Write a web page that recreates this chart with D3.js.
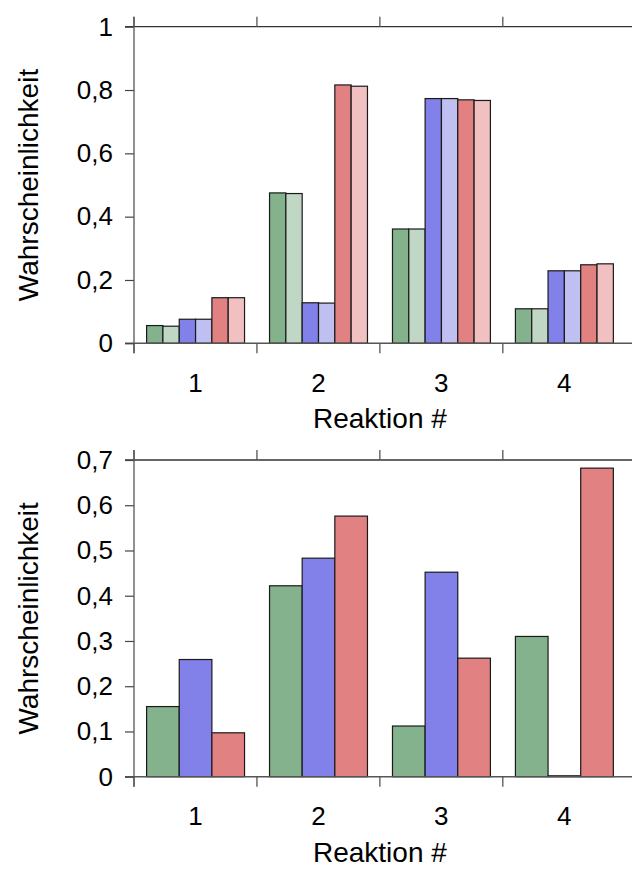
<!DOCTYPE html>
<html>
<head>
<meta charset="utf-8">
<script src="https://cdn.jsdelivr.net/npm/d3@7"></script>
<style>
  body { margin: 0; background: #fff; }
  text { font-family: "Liberation Sans", Arial, sans-serif; fill: #000; }
</style>
</head>
<body>
<svg id="chart" width="632" height="869"></svg>
<script>
var groups = ["1", "2", "3", "4"];

// oberes Diagramm: 6 Reihen
var topSeries = ["g", "g2", "b", "b2", "r", "r2"];
var topGreen  = [0.056, 0.475, 0.361, 0.109];
var topGreen2 = [0.054, 0.473, 0.361, 0.109];
var topBlue   = [0.076, 0.128, 0.773, 0.229];
var topBlue2  = [0.076, 0.127, 0.773, 0.229];
var topRed    = [0.144, 0.816, 0.769, 0.248];
var topRed2   = [0.144, 0.812, 0.767, 0.251];
var topTicks  = [0, 0.2, 0.4, 0.6, 0.8, 1];

// unteres Diagramm: 3 Reihen
var botSeries = ["g", "b", "r"];
var botGreen  = [0.155, 0.422, 0.112, 0.310];
var botBlue   = [0.259, 0.483, 0.452, 0.002];
var botRed    = [0.097, 0.576, 0.262, 0.682];
var botTicks  = [0, 0.1, 0.2, 0.3, 0.4, 0.5, 0.6, 0.7];

var colors = {g: "#84b28c", g2: "#c1d7c5", b: "#8181e9", b2: "#bfbff2", r: "#e18181", r2: "#f1c1c1"};

var svg = d3.select("#chart");
var fmt = function(d){ return String(d).replace(".", ","); };

function drawChart(top, bottom, series, values, ticks){
  var left = 134, right = 625.75;
  var x = d3.scaleBand().domain(groups).range([left, right]);
  var x1 = d3.scaleBand().domain(series).range([12.6, x.bandwidth() - 12.4]);
  var y = d3.scaleLinear().domain([0, ticks[ticks.length - 1]]).range([bottom, top]);

  var g = svg.append("g");

  // Balken
  series.forEach(function(s, si){
    g.selectAll(".bar" + s)
      .data(values[si])
      .enter()
      .append("rect")
      .attr("x", function(d, i){ return x(groups[i]) + x1(s); })
      .attr("width", x1.bandwidth())
      .attr("y", function(d){ return y(d); })
      .attr("height", function(d){ return y(0) - y(d); })
      .attr("fill", colors[s])
      .attr("stroke", "#1a1a1a")
      .attr("stroke-width", 1.2);
  });

  // Rahmenlinien oben und unten
  g.append("line").attr("x1", left - 9).attr("x2", 632).attr("y1", y(ticks[ticks.length-1])).attr("y2", y(ticks[ticks.length-1]))
    .attr("stroke", "#333").attr("stroke-width", 1.3);
  g.append("line").attr("x1", left - 9).attr("x2", 632).attr("y1", y(0)).attr("y2", y(0))
    .attr("stroke", "#555").attr("stroke-width", 1.5);

  // Grenzticks oben/unten
  g.selectAll(".tb").data(groups).enter().append("line")
    .attr("x1", function(d){ return x(d); }).attr("x2", function(d){ return x(d); })
    .attr("y1", y(0)).attr("y2", y(0) + 10)
    .attr("stroke", "#555").attr("stroke-width", 1.3);
  g.selectAll(".tt").data(groups).enter().append("line")
    .attr("x1", function(d){ return x(d); }).attr("x2", function(d){ return x(d); })
    .attr("y1", top).attr("y2", top - 10)
    .attr("stroke", "#555").attr("stroke-width", 1.3);

  // y-Achse
  var yAxis = g.append("g")
    .attr("transform", "translate(" + left + ",0)")
    .call(d3.axisLeft(y).tickValues(ticks).tickFormat(fmt).tickSize(9).tickPadding(12));
  yAxis.select(".domain").remove();
  yAxis.selectAll("line").attr("stroke", "#444").attr("stroke-width", 1.2);
  yAxis.selectAll("text").attr("font-size", 26).style("font-family", "Liberation Sans, Arial, sans-serif");
  g.append("line").attr("x1", left).attr("x2", left).attr("y1", top - 10).attr("y2", bottom + 10)
    .attr("stroke", "#555").attr("stroke-width", 1.3);

  // x-Achse Beschriftung
  var xAxis = g.append("g")
    .attr("transform", "translate(0," + bottom + ")")
    .call(d3.axisBottom(x).tickSize(0).tickPadding(30));
  xAxis.select(".domain").remove();
  xAxis.selectAll("text").attr("font-size", 26).style("font-family", "Liberation Sans, Arial, sans-serif");

  g.append("text")
    .attr("x", (left + right) / 2).attr("y", bottom + 85)
    .attr("text-anchor", "middle").attr("font-size", 28)
    .text("Reaktion #");

  g.append("text")
    .attr("transform", "translate(38," + (top + bottom) / 2 + ") rotate(-90)")
    .attr("text-anchor", "middle").attr("font-size", 28)
    .text("Wahrscheinlichkeit");
}

drawChart(26.7, 343.3, topSeries, [topGreen, topGreen2, topBlue, topBlue2, topRed, topRed2], topTicks);
drawChart(460, 776.7, botSeries, [botGreen, botBlue, botRed], botTicks);
</script>
</body>
</html>
